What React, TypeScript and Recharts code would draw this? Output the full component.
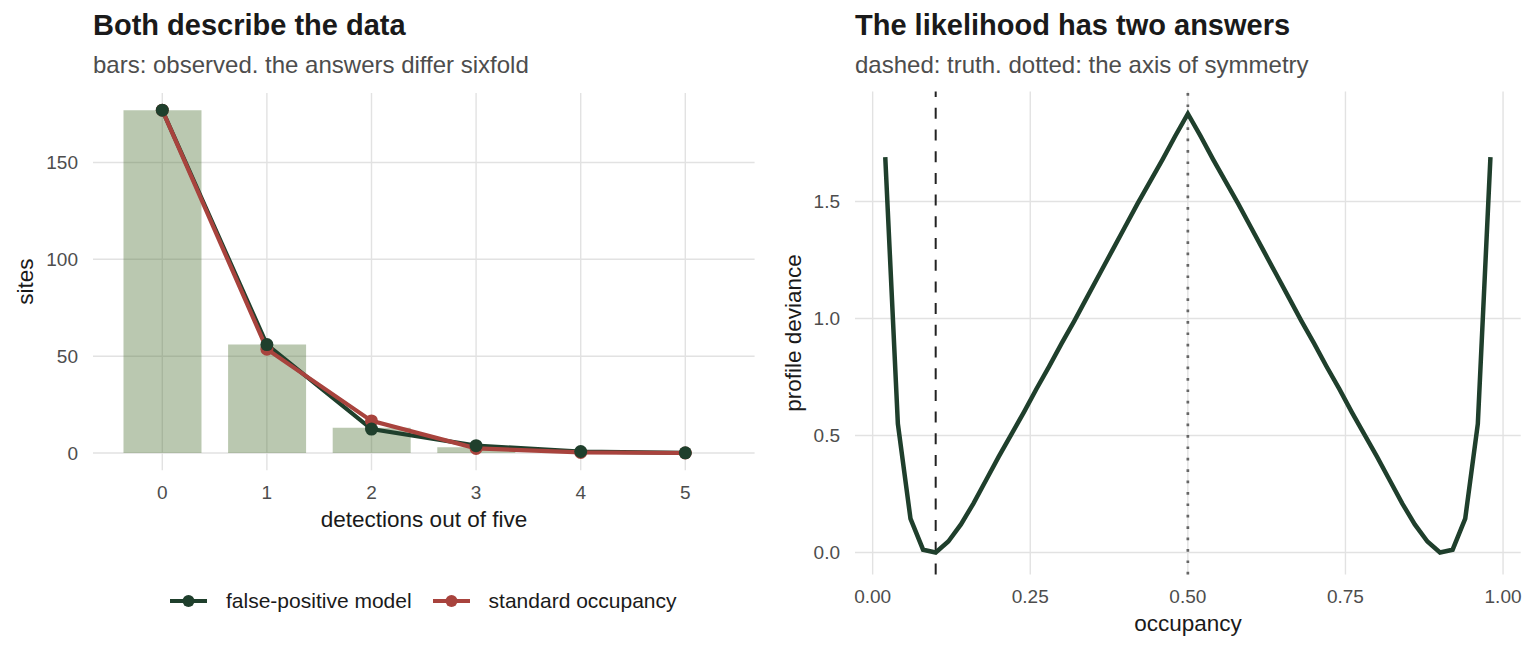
import React from 'react';
import {
  ComposedChart,
  LineChart,
  Bar,
  Line,
  XAxis,
  YAxis,
  CartesianGrid,
  ReferenceLine,
} from 'recharts';

const FONT = '"Liberation Sans", Arial, Helvetica, sans-serif';
const GREEN = '#1f3f2c';
const RED = '#a8433d';
const GRID = '#e2e2e2';
const TICK = '#4d4d4d';
const INK = '#1a1a1a';

// detection histogram: observed sites and the two fitted models
const detections = ['0', '1', '2', '3', '4', '5'];
const observedSites = [177, 56, 13, 3, 1, 0];
const falsePositiveFit = [177, 56, 12.4, 3.8, 0.8, 0.1];
const standardFit = [177, 53.6, 16.6, 2.4, 0.3, 0.02];
const sitesTicks = [0, 50, 100, 150];

// profile deviance over the occupancy grid
const occupancyGrid = [
  0.02, 0.04, 0.06, 0.08, 0.1, 0.12, 0.14, 0.16, 0.18, 0.2, 0.22, 0.24, 0.26,
  0.28, 0.3, 0.32, 0.34, 0.36, 0.38, 0.4, 0.42, 0.44, 0.46, 0.48, 0.5, 0.52,
  0.54, 0.56, 0.58, 0.6, 0.62, 0.64, 0.66, 0.68, 0.7, 0.72, 0.74, 0.76, 0.78,
  0.8, 0.82, 0.84, 0.86, 0.88, 0.9, 0.92, 0.94, 0.96, 0.98,
];
const profileDeviance = [
  1.69, 0.55, 0.145, 0.012, 0.0, 0.047, 0.12, 0.21, 0.31, 0.41, 0.505, 0.6,
  0.7, 0.795, 0.895, 0.99, 1.09, 1.19, 1.29, 1.39, 1.49, 1.585, 1.68, 1.78,
  1.875, 1.78, 1.68, 1.585, 1.49, 1.39, 1.29, 1.19, 1.09, 0.99, 0.895, 0.795,
  0.7, 0.6, 0.505, 0.41, 0.31, 0.21, 0.12, 0.047, 0.0, 0.012, 0.145, 0.55,
  1.69,
];
const occupancyTicks = [0, 0.25, 0.5, 0.75, 1];
const devianceTicks = [0, 0.5, 1, 1.5];
const trueOccupancy = 0.1;
const symmetryAxis = 0.5;

const histData = detections.map((d, i) => ({
  k: d,
  observed: observedSites[i],
  fp: falsePositiveFit[i],
  std: standardFit[i],
}));

const profileData = occupancyGrid.map((p, i) => ({
  p,
  dev: profileDeviance[i],
}));

const tickStyle = { fontSize: 19, fill: TICK, fontFamily: FONT };

function LegendKey({ color }: { color: string }) {
  return (
    <svg width={37} height={20} style={{ display: 'block' }}>
      <line x1={0} y1={10} x2={37} y2={10} stroke={color} strokeWidth={4.2} />
      <circle cx={18.5} cy={10} r={6} fill={color} />
    </svg>
  );
}

export default function App() {
  return (
    <div
      style={{
        position: 'absolute',
        left: 0,
        top: 0,
        width: 1536,
        height: 652,
        background: '#fff',
        fontFamily: FONT,
      }}
    >
      <div style={{ position: 'absolute', left: 0, top: 0 }}>
        <ComposedChart
          width={768}
          height={652}
          data={histData}
          margin={{ top: 93, right: 13.4, bottom: 141.8, left: 33 }}
          barCategoryGap="12.9%"
        >
          {/* gridlines only at the tick positions, no panel border */}
          <CartesianGrid stroke={GRID} strokeWidth={1.4} syncWithTicks />
          <XAxis
            dataKey="k"
            height={40}
            padding={{ left: 17, right: 17 }}
            axisLine={false}
            tickLine={false}
            tickSize={0}
            tickMargin={15}
            tick={tickStyle}
          />
          <YAxis
            width={60}
            type="number"
            domain={[-8.85, 185.85]}
            allowDataOverflow
            ticks={sitesTicks}
            axisLine={false}
            tickLine={false}
            tickSize={0}
            tickMargin={15}
            tick={tickStyle}
          />
          <Bar
            dataKey="observed"
            fill="#52753a"
            fillOpacity={0.4}
            isAnimationActive={false}
          />
          <Line
            dataKey="fp"
            stroke={GREEN}
            strokeWidth={4.2}
            dot={false}
            activeDot={false}
            isAnimationActive={false}
          />
          <Line
            dataKey="std"
            stroke={RED}
            strokeWidth={4.2}
            dot={false}
            activeDot={false}
            isAnimationActive={false}
          />
          {/* points drawn after both lines so they sit on top */}
          <Line
            dataKey="std"
            stroke="none"
            dot={{ r: 6.5, fill: RED, stroke: 'none' }}
            activeDot={false}
            isAnimationActive={false}
          />
          <Line
            dataKey="fp"
            stroke="none"
            dot={{ r: 6.5, fill: GREEN, stroke: 'none' }}
            activeDot={false}
            isAnimationActive={false}
          />
        </ComposedChart>
      </div>

      <div style={{ position: 'absolute', left: 768, top: 0 }}>
        <LineChart
          width={768}
          height={652}
          data={profileData}
          margin={{ top: 91.5, right: 15.3, bottom: 37.5, left: 27 }}
        >
          <CartesianGrid stroke={GRID} strokeWidth={1.4} syncWithTicks />
          <XAxis
            dataKey="p"
            type="number"
            domain={[-0.028, 1.028]}
            allowDataOverflow
            ticks={occupancyTicks}
            tickFormatter={(v: number) => v.toFixed(2)}
            height={40}
            axisLine={false}
            tickLine={false}
            tickSize={0}
            tickMargin={15}
            tick={tickStyle}
          />
          <YAxis
            width={60}
            type="number"
            domain={[-0.094, 1.97]}
            allowDataOverflow
            ticks={devianceTicks}
            tickFormatter={(v: number) => v.toFixed(1)}
            axisLine={false}
            tickLine={false}
            tickSize={0}
            tickMargin={15}
            tick={tickStyle}
          />
          <ReferenceLine
            x={trueOccupancy}
            stroke="#222"
            strokeWidth={2}
            strokeDasharray="11 10.7"
          />
          <ReferenceLine
            x={symmetryAxis}
            stroke="#666"
            strokeWidth={2.7}
            strokeDasharray="2.7 8.7"
          />
          <Line
            dataKey="dev"
            stroke={GREEN}
            strokeWidth={4.5}
            strokeLinejoin="miter"
            dot={false}
            activeDot={false}
            isAnimationActive={false}
          />
        </LineChart>
      </div>

      <svg
        width={1536}
        height={652}
        style={{ position: 'absolute', left: 0, top: 0, pointerEvents: 'none' }}
        fontFamily={FONT}
      >
        <text x={93} y={35} fontSize={29} fontWeight="bold" fill={INK}>
          Both describe the data
        </text>
        <text x={93} y={73} fontSize={24} fill={TICK}>
          bars: observed. the answers differ sixfold
        </text>
        <text x={855} y={35} fontSize={29} fontWeight="bold" fill={INK}>
          The likelihood has two answers
        </text>
        <text x={855} y={73} fontSize={24} fill={TICK}>
          dashed: truth. dotted: the axis of symmetry
        </text>

        <text
          x={33}
          y={281.6}
          fontSize={22.5}
          fill={INK}
          textAnchor="middle"
          transform="rotate(-90 33 281.6)"
        >
          sites
        </text>
        <text x={424} y={527} fontSize={22.5} fill={INK} textAnchor="middle">
          detections out of five
        </text>
        <text
          x={801}
          y={333}
          fontSize={22.5}
          fill={INK}
          textAnchor="middle"
          transform="rotate(-90 801 333)"
        >
          profile deviance
        </text>
        <text x={1188} y={631} fontSize={22.5} fill={INK} textAnchor="middle">
          occupancy
        </text>
      </svg>

      <div
        style={{
          position: 'absolute',
          left: 170,
          top: 589,
          height: 24,
          display: 'flex',
          alignItems: 'center',
          fontSize: 21,
          color: INK,
          whiteSpace: 'nowrap',
        }}
      >
        <LegendKey color={GREEN} />
        <span style={{ marginLeft: 19 }}>false-positive model</span>
        <span style={{ marginLeft: 21 }}>
          <LegendKey color={RED} />
        </span>
        <span style={{ marginLeft: 19 }}>standard occupancy</span>
      </div>
    </div>
  );
}
